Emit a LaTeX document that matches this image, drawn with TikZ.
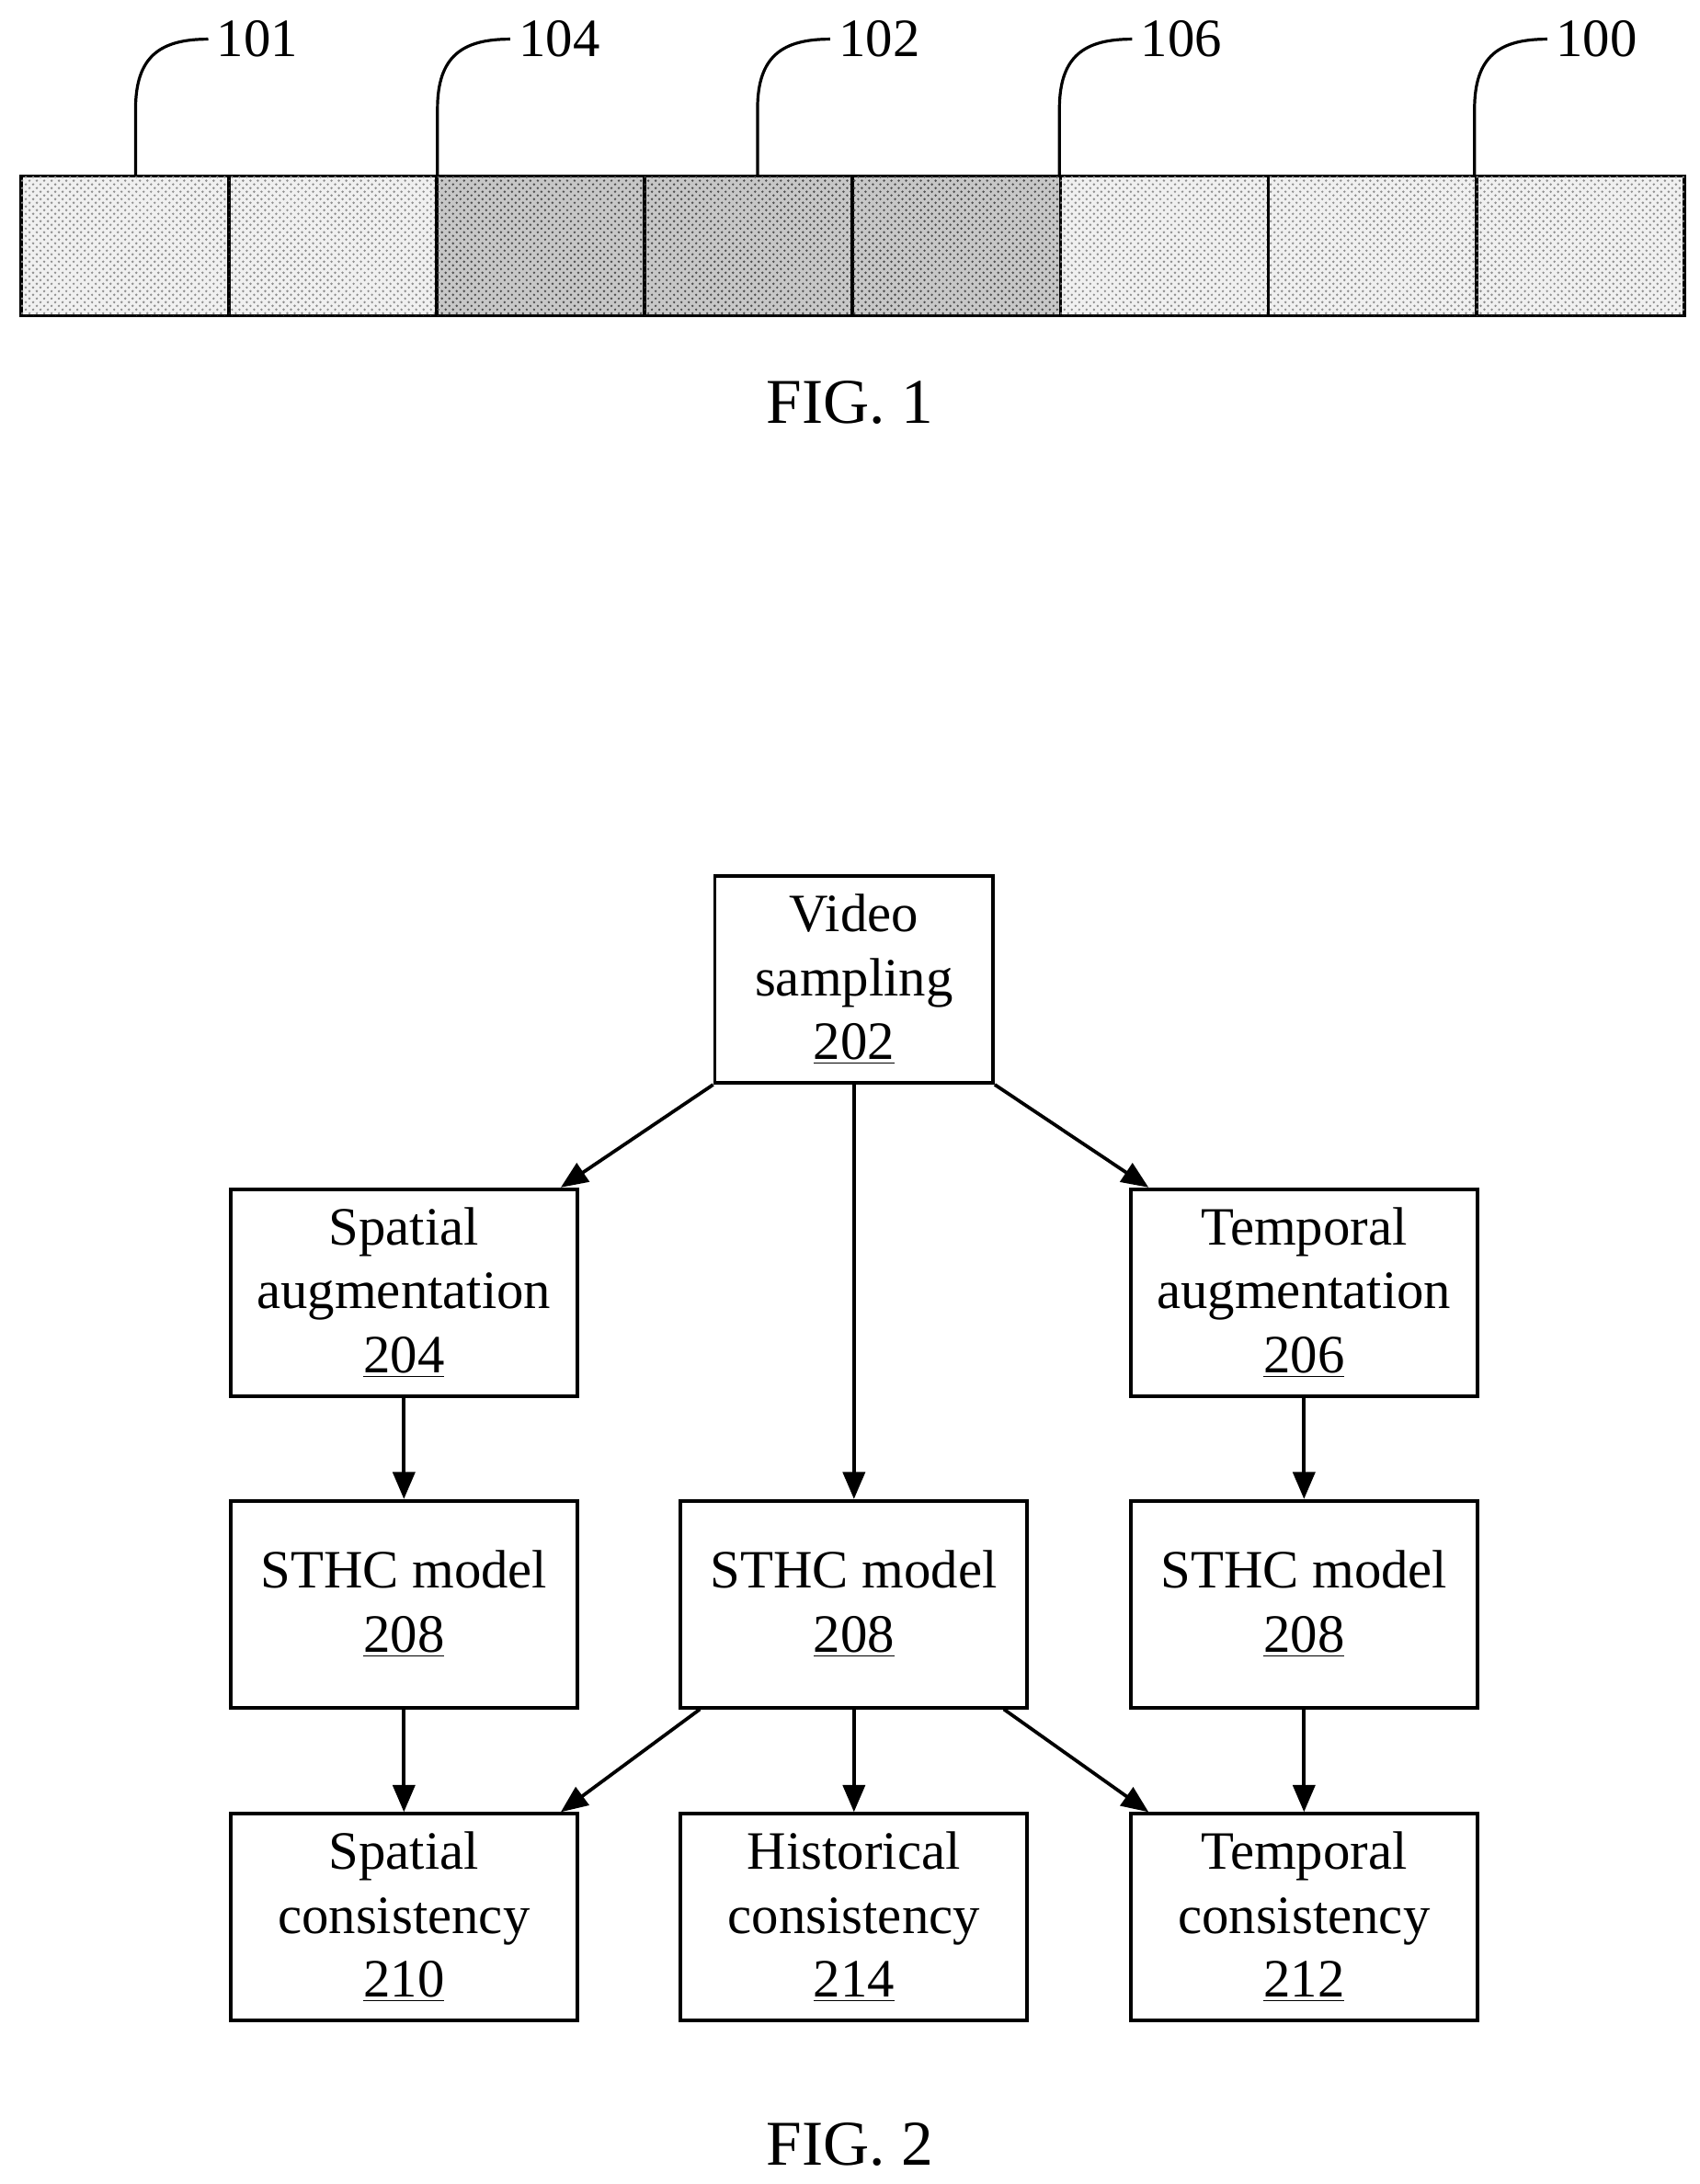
\documentclass[tikz,border=0pt]{standalone}
\usepackage{fontspec}
\setmainfont{Liberation Serif}
\usetikzlibrary{patterns,arrows.meta}
\begin{document}
\begin{tikzpicture} [
  x=0.02cm, y=-0.02cm,
  frame/.style= {draw,line width=1.4pt},
  light cell/.style= {frame,fill=black!6,postaction={pattern=crosshatch dots,pattern color=black!45}},
  dark cell/.style= {frame,fill=black!22,postaction={pattern=crosshatch dots,pattern color=black!70}},
  box/.style= {draw,line width=1.4pt,minimum width=248*0.02cm,minimum height=148*0.02cm,align=center,font=\fontsize{22}{26}\selectfont,inner sep=0},
  flow/.style= {-{Triangle[length=11pt,width=9pt]},line width=1.4pt},
  leader/.style= {line width=1.2pt},
  ref/.style= {font=\fontsize{22}{26}\selectfont,anchor=west},
]
\useasboundingbox (0,0) rectangle (1216,1563);
% FIG. 1 strip
\foreach \i in {0,...,7} {
  \ifnum\i>1 \ifnum\i<5 \def\cellstyle{dark cell}\else\def\cellstyle{light cell}\fi\else\def\cellstyle{light cell}\fi
  \path[\cellstyle] (15+\i*148.75,126) rectangle (15+\i*148.75+148.75,226);
}
\foreach \x/\t in {97/101,313/104,542/102,758/106,1055/100} {
  \coordinate (c\t) at (\x,126);
  \node[ref] (r\t) at (\x+52,28) {\t};
  \draw[leader] (c\t) -- (\x,78) .. controls (\x,40) and (\x+18,28) .. (r\t.west);
}
\node[font=\fontsize{26}{30}\selectfont] (fig1) at (608,288) {FIG. 1};
% FIG. 2 flow
\node[box,minimum width=199*0.02cm] (vs) at (611,701) {Video\\sampling\\\underline{202}};
\node[box] (sa) at (289,925) {Spatial\\augmentation\\\underline{204}};
\node[box] (ta) at (933,925) {Temporal\\augmentation\\\underline{206}};
\node[box] (m1) at (289,1148) {STHC model\\\underline{208}};
\node[box] (m2) at (611,1148) {STHC model\\\underline{208}};
\node[box] (m3) at (933,1148) {STHC model\\\underline{208}};
\node[box] (sc) at (289,1372) {Spatial\\consistency\\\underline{210}};
\node[box] (hc) at (611,1372) {Historical\\consistency\\\underline{214}};
\node[box] (tc) at (933,1372) {Temporal\\consistency\\\underline{212}};
\draw[flow] (vs.south west) -- ([xshift=-13*0.02cm]sa.north east);
\draw[flow] (vs) -- (m2);
\draw[flow] (vs.south east) -- ([xshift=14*0.02cm]ta.north west);
\draw[flow] (sa) -- (m1);
\draw[flow] (ta) -- (m3);
\draw[flow] (m1) -- (sc);
\draw[flow] (m3) -- (tc);
\draw[flow] ([xshift=15*0.02cm]m2.south west) -- ([xshift=-13*0.02cm]sc.north east);
\draw[flow] (m2) -- (hc);
\draw[flow] ([xshift=-18*0.02cm]m2.south east) -- ([xshift=14*0.02cm]tc.north west);
\node[font=\fontsize{26}{30}\selectfont] (fig2) at (608,1535) {FIG. 2};
\end{tikzpicture}
\end{document}
